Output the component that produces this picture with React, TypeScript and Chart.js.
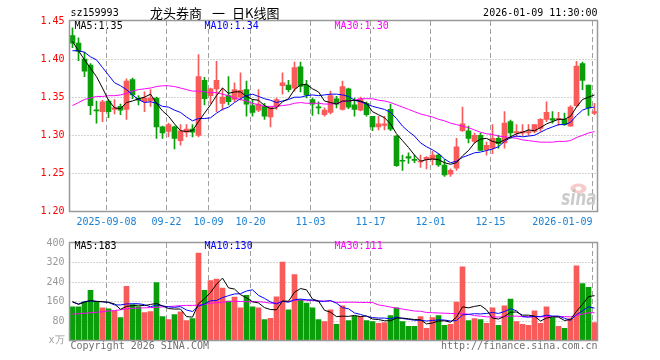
import React, { useEffect, useRef } from 'react';
import { Chart, registerables } from 'chart.js';

Chart.register(...registerables);

const dates = [
  '2025-08-29',
  '2025-09-01', '2025-09-02', '2025-09-03', '2025-09-04', '2025-09-05',
  '2025-09-08', '2025-09-09', '2025-09-10', '2025-09-11', '2025-09-12',
  '2025-09-15', '2025-09-16', '2025-09-17', '2025-09-18', '2025-09-19',
  '2025-09-22', '2025-09-23', '2025-09-24', '2025-09-25', '2025-09-26',
  '2025-09-29', '2025-09-30',
  '2025-10-09', '2025-10-10',
  '2025-10-13', '2025-10-14', '2025-10-15', '2025-10-16', '2025-10-17',
  '2025-10-20', '2025-10-21', '2025-10-22', '2025-10-23', '2025-10-24',
  '2025-10-27', '2025-10-28', '2025-10-29', '2025-10-30', '2025-10-31',
  '2025-11-03', '2025-11-04', '2025-11-05', '2025-11-06', '2025-11-07',
  '2025-11-10', '2025-11-11', '2025-11-12', '2025-11-13', '2025-11-14',
  '2025-11-17', '2025-11-18', '2025-11-19', '2025-11-20', '2025-11-21',
  '2025-11-24', '2025-11-25', '2025-11-26', '2025-11-27', '2025-11-28',
  '2025-12-01', '2025-12-02', '2025-12-03', '2025-12-04', '2025-12-05',
  '2025-12-08', '2025-12-09', '2025-12-10', '2025-12-11', '2025-12-12',
  '2025-12-15', '2025-12-16', '2025-12-17', '2025-12-18', '2025-12-19',
  '2025-12-22', '2025-12-23', '2025-12-24', '2025-12-25', '2025-12-26',
  '2025-12-29', '2025-12-30', '2025-12-31',
  '2026-01-05', '2026-01-06', '2026-01-07', '2026-01-08', '2026-01-09',
];

const opens = [
  1.431, 1.421, 1.400, 1.392, 1.333, 1.331, 1.345, 1.334, 1.338, 1.334,
  1.373, 1.349, 1.344, 1.345, 1.349, 1.311, 1.305, 1.311, 1.293, 1.304,
  1.308, 1.300, 1.372, 1.352, 1.361, 1.342, 1.352, 1.347, 1.350, 1.360,
  1.339, 1.333, 1.338, 1.324, 1.338, 1.365, 1.366, 1.362, 1.390, 1.366,
  1.347, 1.337, 1.327, 1.330, 1.348, 1.334, 1.361, 1.340, 1.333, 1.342,
  1.325, 1.311, 1.313, 1.334, 1.299, 1.267, 1.272, 1.268, 1.265, 1.268,
  1.268, 1.274, 1.261, 1.249, 1.257, 1.306, 1.306, 1.292, 1.300, 1.281,
  1.283, 1.296, 1.290, 1.318, 1.303, 1.303, 1.303, 1.305, 1.309, 1.321,
  1.322, 1.321, 1.321, 1.312, 1.339, 1.394, 1.366, 1.329,
];
const highs = [
  1.441, 1.428, 1.409, 1.394, 1.345, 1.346, 1.347, 1.347, 1.341, 1.374,
  1.375, 1.352, 1.357, 1.360, 1.350, 1.312, 1.316, 1.312, 1.314, 1.314,
  1.314, 1.406, 1.376, 1.362, 1.397, 1.362, 1.377, 1.369, 1.382, 1.371,
  1.347, 1.360, 1.342, 1.337, 1.349, 1.382, 1.372, 1.396, 1.396, 1.372,
  1.349, 1.344, 1.336, 1.358, 1.351, 1.371, 1.362, 1.349, 1.350, 1.344,
  1.325, 1.325, 1.325, 1.341, 1.300, 1.274, 1.277, 1.274, 1.274, 1.272,
  1.279, 1.276, 1.268, 1.256, 1.296, 1.337, 1.312, 1.303, 1.303, 1.291,
  1.314, 1.300, 1.331, 1.320, 1.314, 1.314, 1.314, 1.314, 1.322, 1.344,
  1.331, 1.330, 1.329, 1.339, 1.397, 1.396, 1.366, 1.342,
];
const lows = [
  1.415, 1.398, 1.377, 1.327, 1.316, 1.318, 1.323, 1.328, 1.327, 1.321,
  1.348, 1.340, 1.331, 1.338, 1.296, 1.296, 1.298, 1.282, 1.287, 1.298,
  1.298, 1.298, 1.340, 1.342, 1.331, 1.333, 1.340, 1.344, 1.346, 1.325,
  1.325, 1.331, 1.321, 1.311, 1.334, 1.354, 1.357, 1.358, 1.357, 1.349,
  1.326, 1.328, 1.325, 1.328, 1.336, 1.333, 1.335, 1.325, 1.332, 1.325,
  1.306, 1.307, 1.307, 1.306, 1.259, 1.254, 1.263, 1.264, 1.258, 1.256,
  1.261, 1.259, 1.246, 1.246, 1.254, 1.305, 1.290, 1.290, 1.280, 1.274,
  1.276, 1.283, 1.283, 1.296, 1.298, 1.300, 1.300, 1.303, 1.305, 1.318,
  1.316, 1.313, 1.313, 1.312, 1.337, 1.360, 1.326, 1.327,
];
const closes = [
  1.421, 1.410, 1.384, 1.339, 1.332, 1.344, 1.331, 1.336, 1.333, 1.371,
  1.353, 1.346, 1.349, 1.349, 1.311, 1.303, 1.314, 1.296, 1.306, 1.308,
  1.304, 1.377, 1.348, 1.361, 1.372, 1.350, 1.344, 1.360, 1.359, 1.341,
  1.330, 1.341, 1.325, 1.337, 1.347, 1.369, 1.360, 1.389, 1.364, 1.353,
  1.341, 1.336, 1.333, 1.352, 1.341, 1.364, 1.337, 1.334, 1.348, 1.327,
  1.311, 1.315, 1.315, 1.308, 1.260, 1.266, 1.270, 1.267, 1.266, 1.271,
  1.274, 1.261, 1.248, 1.254, 1.285, 1.315, 1.296, 1.300, 1.280, 1.287,
  1.296, 1.289, 1.316, 1.303, 1.305, 1.305, 1.305, 1.314, 1.321, 1.330,
  1.320, 1.322, 1.314, 1.337, 1.391, 1.372, 1.336, 1.331,
];

const ma5 = [
  1.423, 1.411, 1.399, 1.388, 1.377, 1.362, 1.346, 1.336, 1.335, 1.343,
  1.345, 1.348, 1.350, 1.354, 1.342, 1.332, 1.325, 1.315, 1.306, 1.305,
  1.306, 1.318, 1.329, 1.340, 1.352, 1.362, 1.355, 1.357, 1.357, 1.351,
  1.347, 1.346, 1.339, 1.335, 1.336, 1.344, 1.348, 1.360, 1.366, 1.367,
  1.361, 1.357, 1.345, 1.343, 1.341, 1.345, 1.345, 1.346, 1.345, 1.342,
  1.331, 1.327, 1.323, 1.315, 1.302, 1.293, 1.284, 1.274, 1.266, 1.268,
  1.269, 1.268, 1.264, 1.262, 1.264, 1.273, 1.280, 1.290, 1.295, 1.296,
  1.292, 1.290, 1.294, 1.298, 1.302, 1.304, 1.307, 1.306, 1.310, 1.315,
  1.318, 1.321, 1.321, 1.325, 1.337, 1.347, 1.350, 1.353,
];
const ma10 = [
  1.411, 1.411, 1.409, 1.403, 1.399, 1.389, 1.379, 1.369, 1.365, 1.360,
  1.353, 1.347, 1.343, 1.344, 1.342, 1.338, 1.337, 1.333, 1.330, 1.324,
  1.319, 1.322, 1.322, 1.323, 1.329, 1.334, 1.337, 1.343, 1.348, 1.352,
  1.354, 1.351, 1.348, 1.346, 1.343, 1.345, 1.347, 1.350, 1.350, 1.352,
  1.353, 1.352, 1.353, 1.354, 1.354, 1.353, 1.351, 1.346, 1.344, 1.341,
  1.338, 1.336, 1.334, 1.330, 1.322, 1.312, 1.305, 1.299, 1.290, 1.285,
  1.281, 1.276, 1.269, 1.264, 1.266, 1.271, 1.274, 1.277, 1.278, 1.280,
  1.282, 1.285, 1.292, 1.297, 1.299, 1.298, 1.299, 1.300, 1.304, 1.308,
  1.311, 1.314, 1.314, 1.317, 1.326, 1.333, 1.336, 1.337,
];
const ma30 = [
  1.339, 1.343, 1.347, 1.349, 1.351, 1.351, 1.352, 1.352, 1.353, 1.355,
  1.358, 1.360, 1.361, 1.362, 1.364, 1.365, 1.365, 1.364, 1.362, 1.360,
  1.358, 1.358, 1.357, 1.356, 1.356, 1.354, 1.352, 1.349, 1.347, 1.345,
  1.342, 1.340, 1.338, 1.338, 1.338, 1.339, 1.340, 1.342, 1.343, 1.342,
  1.342, 1.342, 1.341, 1.341, 1.342, 1.344, 1.345, 1.346, 1.348, 1.348,
  1.348, 1.346, 1.345, 1.343, 1.340, 1.337, 1.334, 1.331, 1.328, 1.326,
  1.324, 1.321, 1.319, 1.316, 1.314, 1.312, 1.310, 1.307, 1.304, 1.302,
  1.301, 1.299, 1.298, 1.297, 1.296, 1.294, 1.293, 1.292, 1.291, 1.291,
  1.291, 1.292, 1.292, 1.293, 1.297, 1.300, 1.303, 1.305,
];

const volumes = [
  138, 138, 158, 206, 158, 134, 130, 122, 94, 222,
  147, 139, 115, 119, 238, 98, 86, 106, 118, 82,
  90, 359, 206, 246, 252, 215, 162, 178, 134, 185,
  138, 134, 86, 91, 179, 322, 126, 270, 166, 154,
  134, 86, 78, 126, 66, 142, 82, 99, 99, 82,
  78, 70, 74, 102, 134, 78, 58, 58, 98, 50,
  94, 102, 62, 66, 158, 302, 82, 90, 86, 70,
  134, 62, 142, 170, 78, 66, 62, 122, 70, 138,
  94, 58, 50, 90, 306, 234, 218, 74,
];
const volMa5 = [
  160, 148, 157, 164, 160, 159, 157, 150, 128, 140,
  143, 145, 143, 148, 152, 142, 131, 129, 129, 98,
  96, 151, 171, 197, 231, 256, 216, 211, 188, 175,
  159, 154, 135, 127, 126, 162, 161, 198, 213, 208,
  170, 162, 124, 116, 98, 100, 99, 103, 98, 101,
  88, 86, 81, 81, 92, 92, 89, 86, 85, 68,
  72, 80, 81, 75, 96, 138, 134, 140, 144, 126,
  92, 88, 99, 116, 117, 104, 104, 100, 80, 92,
  97, 96, 82, 86, 120, 148, 180, 184,
];
const volMa10 = [
  157, 150, 160, 162, 161, 159, 156, 146, 146, 150,
  151, 151, 147, 138, 146, 142, 138, 136, 139, 125,
  119, 141, 150, 163, 164, 176, 184, 191, 192, 203,
  208, 185, 173, 158, 150, 161, 157, 167, 170, 167,
  166, 161, 161, 164, 153, 135, 130, 113, 107, 99,
  94, 92, 92, 89, 96, 90, 87, 83, 83, 80,
  82, 85, 84, 80, 82, 105, 107, 110, 109, 111,
  115, 111, 119, 130, 122, 98, 96, 99, 98, 104,
  100, 100, 91, 83, 106, 122, 138, 133,
];
const volMa30 = [
  108, 110, 112, 114, 116, 118, 121, 123, 126, 130,
  132, 133, 134, 135, 136, 138, 139, 141, 143, 144,
  144, 145, 148, 153, 155, 157, 160, 161, 160, 159,
  159, 159, 157, 153, 154, 160, 160, 165, 167, 165,
  164, 163, 161, 162, 156, 157, 157, 157, 156, 156,
  156, 146, 142, 137, 133, 129, 125, 121, 120, 115,
  114, 113, 112, 111, 110, 110, 108, 102, 100, 97,
  97, 96, 98, 100, 100, 98, 97, 98, 97, 99,
  99, 99, 98, 97, 103, 108, 114, 114,
];

const tickDates = ['2025-09-08', '2025-09-22', '2025-10-09', '2025-10-20', '2025-11-03', '2025-11-17', '2025-12-01', '2025-12-15', '2026-01-09'];
const tickTexts = ['2025-09-08', '09-22', '10-09', '10-20', '11-03', '11-17', '12-01', '12-15', '2026-01-09'];
const priceGridValues = [1.25, 1.30, 1.35, 1.40];
const volGridValues = [80, 160, 240, 320];

const titleCode = 'sz159993';
const titleParts = ['龙头券商', '一', '日K线图'];
const titleTime = '2026-01-09 11:30:00';
const priceLegend = ['MA5:1.35', 'MA10:1.34', 'MA30:1.30'];
const volLegend = ['MA5:183', 'MA10:130', 'MA30:111'];
const footerLeft = 'Copyright 2026 SINA.COM';
const footerRight = 'http://finance.sina.com.cn';

const UP = '#f95a5a';
const DOWN = '#0a9f0a';
const MA_COLORS = ['#000000', '#0000ff', '#ff00ff'];
const MONO = '"DejaVu Sans Mono", monospace';
const CJK = '"Noto Sans CJK SC", sans-serif';

export default function App() {
  const mainRef = useRef<HTMLCanvasElement>(null);
  const volRef = useRef<HTMLCanvasElement>(null);

  useEffect(() => {
    const colors = closes.map((c, i) => (c >= opens[i] ? UP : DOWN));
    const tickIdx = tickDates.map((d) => dates.indexOf(d));
    const tickMap = new Map<number, string>();
    tickIdx.forEach((k, j) => tickMap.set(k, tickTexts[j]));

    const drawGrid = (chart: any, yVals: number[]) => {
      const { ctx, chartArea: a, scales } = chart;
      const x = scales.x;
      const y = scales.y;
      ctx.save();
      ctx.lineWidth = 1;
      ctx.strokeStyle = '#a8a8a8';
      ctx.setLineDash([1, 2]);
      for (const v of yVals) {
        const py = Math.floor(y.getPixelForValue(v)) + 0.5;
        ctx.beginPath();
        ctx.moveTo(a.left, py);
        ctx.lineTo(a.right, py);
        ctx.stroke();
      }
      ctx.setLineDash([5, 3]);
      ctx.strokeStyle = '#a0a0a0';
      for (const k of tickIdx) {
        const px = Math.floor(x.getPixelForValue(k) - 2) + 0.5;
        ctx.beginPath();
        ctx.moveTo(px, a.top);
        ctx.lineTo(px, a.bottom);
        ctx.stroke();
      }
      ctx.restore();
    };

    const drawBorder = (chart: any) => {
      const { ctx, chartArea: a } = chart;
      ctx.save();
      ctx.strokeStyle = '#999999';
      ctx.lineWidth = 1.5;
      ctx.setLineDash([]);
      const l = Math.floor(a.left) + 0.5;
      const r = Math.floor(a.right) + 0.5;
      const t = Math.floor(a.top) - 0.5;
      const b = Math.floor(a.bottom) + 0.5;
      ctx.strokeRect(l, t, r - l, b - t);
      ctx.restore();
    };

    const drawLegend = (chart: any, items: string[], yPos: number) => {
      const { ctx, chartArea: a } = chart;
      ctx.save();
      ctx.font = `10px ${MONO}`;
      ctx.textBaseline = 'middle';
      ctx.textAlign = 'left';
      const xs = [a.left + 5, a.left + 135, a.left + 265];
      items.forEach((t, j) => {
        ctx.fillStyle = MA_COLORS[j];
        ctx.fillText(t, xs[j], yPos);
      });
      ctx.restore();
    };

    const mainDecor = {
      id: 'mainDecor',
      beforeDatasetsDraw(chart: any) {
        drawGrid(chart, priceGridValues);
        const { ctx, chartArea: a } = chart;
        ctx.save();
        ctx.fillStyle = 'rgba(240,160,160,0.55)';
        ctx.beginPath();
        ctx.ellipse(a.right - 19, a.bottom - 23, 8, 5, 0, 0, Math.PI * 2);
        ctx.fill();
        ctx.fillStyle = '#ffffff';
        ctx.beginPath();
        ctx.ellipse(a.right - 19, a.bottom - 23, 3, 2, 0, 0, Math.PI * 2);
        ctx.fill();
        ctx.translate(a.right - 1, a.bottom - 7);
        ctx.scale(0.72, 1);
        ctx.font = `italic bold 21px "DejaVu Sans", sans-serif`;
        ctx.textAlign = 'right';
        ctx.textBaseline = 'alphabetic';
        ctx.fillStyle = 'rgba(190,190,190,0.8)';
        ctx.fillText('sina', 0, 0);
        ctx.restore();
      },
      afterDraw(chart: any) {
        drawBorder(chart);
        drawLegend(chart, priceLegend, 26);
        const { ctx, chartArea: a } = chart;
        ctx.save();
        ctx.textBaseline = 'middle';
        ctx.fillStyle = '#000000';
        ctx.font = `10px ${MONO}`;
        ctx.textAlign = 'left';
        ctx.fillText(titleCode, a.left + 1, 13);
        ctx.textAlign = 'right';
        ctx.fillText(titleTime, a.right, 13);
        ctx.font = `13px ${CJK}`;
        ctx.textAlign = 'left';
        const xs = [150, 212, 232];
        titleParts.forEach((t, j) => ctx.fillText(t, xs[j], 13));
        ctx.restore();
      },
    };

    const volDecor = {
      id: 'volDecor',
      beforeDatasetsDraw(chart: any) {
        drawGrid(chart, volGridValues);
      },
      afterDraw(chart: any) {
        drawBorder(chart);
        drawLegend(chart, volLegend, 14);
        const { ctx, chartArea: a } = chart;
        ctx.save();
        ctx.textBaseline = 'middle';
        ctx.fillStyle = '#707070';
        ctx.font = `10px ${MONO}`;
        ctx.textAlign = 'left';
        ctx.fillText(footerLeft, a.left + 1, 114);
        ctx.textAlign = 'right';
        ctx.fillText(footerRight, a.right, 114);
        ctx.restore();
      },
    };

    const lineDs = (data: number[], color: string) => ({
      type: 'line' as const,
      data,
      borderColor: color,
      borderWidth: 1,
      pointRadius: 0,
      tension: 0,
      fill: false,
      order: 0,
    });

    const main = new Chart(mainRef.current as HTMLCanvasElement, {
      type: 'bar',
      data: {
        labels: dates,
        datasets: [
          lineDs(ma5, MA_COLORS[0]),
          lineDs(ma10, MA_COLORS[1]),
          lineDs(ma30, MA_COLORS[2]),
          {
            type: 'bar',
            data: opens.map((o, i) => [o, closes[i]]) as any,
            backgroundColor: colors,
            borderWidth: 0,
            barThickness: 5,
            grouped: false,
            minBarLength: 1,
            order: 5,
          },
          {
            type: 'bar',
            data: lows.map((l, i) => [l, highs[i]]) as any,
            backgroundColor: colors,
            borderWidth: 0,
            barThickness: 1,
            grouped: false,
            minBarLength: 1,
            order: 6,
          },
        ] as any,
      },
      options: {
        responsive: false,
        animation: false,
        devicePixelRatio: 1,
        events: [],
        layout: { padding: { left: 0, right: 62.5, top: 21, bottom: 0 } },
        plugins: { legend: { display: false }, tooltip: { enabled: false } },
        scales: {
          x: {
            type: 'category',
            offset: true,
            grid: { display: false, drawTicks: false },
            border: { display: false },
            ticks: {
              autoSkip: false,
              maxRotation: 0,
              minRotation: 0,
              align: 'inner',
              labelOffset: -2,
              padding: 5,
              color: '#1a80d4',
              font: { family: MONO, size: 10 },
              callback: (_v: any, i: number) => tickMap.get(i) ?? '',
            },
            afterFit: (s: any) => { s.height = 20.5; },
          },
          y: {
            min: 1.2,
            max: 1.45,
            grid: { display: false, drawTicks: false },
            border: { display: false },
            ticks: {
              stepSize: 0.05,
              padding: 5,
              color: '#ff0000',
              font: { family: MONO, size: 10 },
              callback: (v: any) => Number(v).toFixed(2),
            },
            afterFit: (s: any) => { s.width = 69.5; },
          },
        },
      } as any,
      plugins: [mainDecor],
    });

    const vol = new Chart(volRef.current as HTMLCanvasElement, {
      type: 'bar',
      data: {
        labels: dates,
        datasets: [
          lineDs(volMa5, MA_COLORS[0]),
          lineDs(volMa10, MA_COLORS[1]),
          lineDs(volMa30, MA_COLORS[2]),
          {
            type: 'bar',
            data: volumes,
            backgroundColor: colors,
            borderWidth: 0,
            barThickness: 5,
            grouped: false,
            order: 5,
          },
        ] as any,
      },
      options: {
        responsive: false,
        animation: false,
        devicePixelRatio: 1,
        events: [],
        layout: { padding: { left: 0, right: 62.5, top: 8.5, bottom: 19.5 } },
        plugins: { legend: { display: false }, tooltip: { enabled: false } },
        scales: {
          x: { type: 'category', offset: true, display: false },
          y: {
            min: 0,
            max: 400,
            grid: { display: false, drawTicks: false },
            border: { display: false },
            ticks: {
              stepSize: 80,
              padding: 5,
              color: '#999999',
              font: { family: MONO, size: 10 },
              callback: (v: any) => (Number(v) === 0 ? 'x万' : String(v)),
            },
            afterFit: (s: any) => { s.width = 69.5; },
          },
        },
      } as any,
      plugins: [volDecor],
    });

    return () => {
      main.destroy();
      vol.destroy();
    };
  }, []);

  return (
    <div style={{ position: 'fixed', left: 0, top: 0, width: 660, height: 360, background: '#ffffff' }}>
      <canvas ref={mainRef} width={660} height={232} style={{ position: 'absolute', left: 0, top: 0, display: 'block' }} />
      <canvas ref={volRef} width={660} height={128} style={{ position: 'absolute', left: 0, top: 232, display: 'block' }} />
    </div>
  );
}
